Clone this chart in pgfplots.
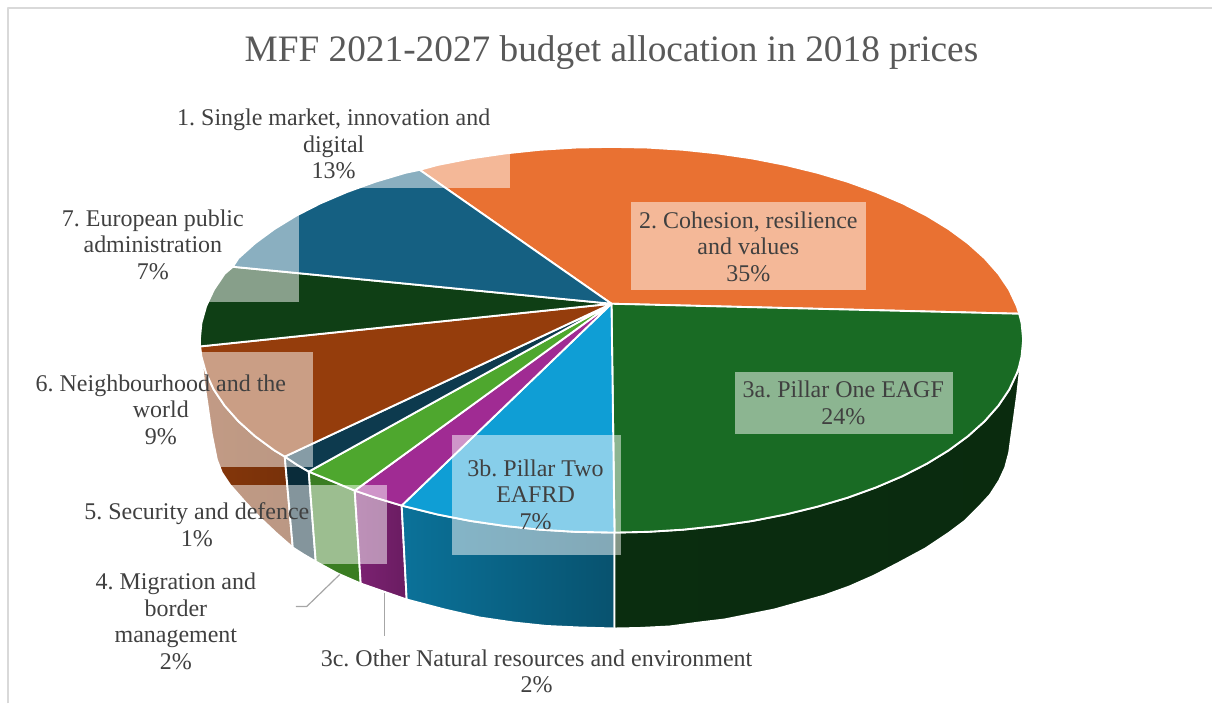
\documentclass[border=0pt]{standalone}
\usepackage{fontspec}
\setmainfont{Liberation Serif}
\usepackage{pgfplots}
\pgfplotsset{compat=1.18}
\definecolor{cBlue}{HTML}{156082}
\definecolor{cOrange}{HTML}{E97132}
\definecolor{cGreen}{HTML}{196B24}
\definecolor{cSky}{HTML}{0F9ED5}
\definecolor{cPurple}{HTML}{A02B93}
\definecolor{cLime}{HTML}{4EA72E}
\definecolor{cNavy}{HTML}{0D3A4E}
\definecolor{cRust}{HTML}{953D0C}
\definecolor{cForest}{HTML}{0F3F15}
\definecolor{txt}{HTML}{404040}
\definecolor{ttl}{HTML}{595959}
\definecolor{frame}{HTML}{D9D9D9}
\definecolor{leader}{HTML}{A6A6A6}
\tikzset{
  edge/.style={draw=white, line width=1.4pt},
  veil/.style={draw=none, fill=white, fill opacity=0.5},
  lbl/.style={text=txt, align=center, font=\fontsize{18}{20}\selectfont, inner sep=0pt},
}
\frenchspacing
\begin{document}
\begin{tikzpicture}
\begin{axis}[
  scale only axis, width=909.75pt, height=528pt,
  xmin=0, xmax=1213, ymin=0, ymax=704, y dir=reverse,
  axis lines=none, clip=false, no markers,
  every axis plot/.append style={line join=round},
]
% keeps the whole canvas inside the page
\addplot[draw=none] coordinates {(0,0) (1213,704)};
% chart frame
\addplot[frame, line width=1.5pt] coordinates {(8,704) (8,8) (1213,8)};

% outer wall of the drum, back to front
\addplot[edge, left color=cRust!90!black, right color=cRust!80!black] coordinates {
 (285,457) (274.5,450.7) (255.2,436.5) (238.6,421.6) (224.8,406) (214,390) (206.3,373.5) (201.6,356.8) (200.3,346.7)
 (204,380) (208,407) (212,435) (217,460) (222,473) (230,485) (245,502) (260,518) (277,534) (293,548)} --cycle;
\addplot[edge, fill=cNavy!75!black] coordinates {
 (309,472) (297,465) (285,457) (293,548) (304,555) (316,562)} --cycle;
\addplot[edge, fill=cLime!75!black] coordinates {
 (355,491) (331,481) (309,472) (316,562) (338,574) (361,584)} --cycle;
\addplot[edge, left color=cPurple!78!black, right color=cPurple!66!black] coordinates {
 (402,506) (375.7,498.1) (355,491) (361,584) (384,592) (407,600)} --cycle;
\addplot[edge, left color=cSky!72!black, right color=cSky!52!black] coordinates {
 (615,533) (576.1,532.3) (540.5,530.1) (505.4,526.4) (471.1,521.4) (437.9,514.9) (402,506)
 (407,600) (445,610) (480,618) (514,623) (547,626.5) (580,628) (615,629)} --cycle;
\addplot[edge, left color=cGreen!42!black, right color=cGreen!40!black] coordinates {
 (1019.5,368.5) (1017.7,373.5) (1010,390) (999.2,406) (985.4,421.6) (968.8,436.5) (949.5,450.7) (927.6,464.1)
 (903.3,476.5) (876.8,487.8) (848.3,498.1) (818,507.1) (786.1,514.9) (752.9,521.4) (718.6,526.4) (683.5,530.1)
 (647.9,532.3) (615,533) (615,629) (640,628.5) (670,627) (700,623) (725,620) (750,615) (775,610) (800,603)
 (825,596) (850,587) (875,576) (900,563) (926,549) (950,533) (966,521) (980,507) (991,495) (1000,481)
 (1006,468) (1010,453) (1012,438) (1015,417) (1018,395) (1021,368)} --cycle;

% top face slices
\addplot[edge, fill=cOrange] coordinates {
 (612,304) (420,170) (437.9,165.1) (471.1,158.6) (505.4,153.6) (540.5,149.9) (576.1,147.7) (612,147) (647.9,147.7)
 (683.5,149.9) (718.6,153.6) (752.9,158.6) (786.1,165.1) (818,172.9) (848.3,181.9) (876.8,192.2) (903.3,203.5)
 (927.6,215.9) (949.5,229.3) (968.8,243.5) (985.4,258.4) (999.2,274) (1010,290) (1017.7,306.5) (1020,314)} --cycle;
\addplot[edge, fill=cGreen] coordinates {
 (612,304) (1020,314) (1022.4,323.2) (1024,340) (1022.4,356.8) (1019.5,368.5) (1017.7,373.5) (1010,390) (999.2,406)
 (985.4,421.6) (968.8,436.5) (949.5,450.7) (927.6,464.1) (903.3,476.5) (876.8,487.8) (848.3,498.1) (818,507.1)
 (786.1,514.9) (752.9,521.4) (718.6,526.4) (683.5,530.1) (647.9,532.3) (615,533)} --cycle;
\addplot[edge, fill=cSky] coordinates {
 (612,304) (615,533) (576.1,532.3) (540.5,530.1) (505.4,526.4) (471.1,521.4) (437.9,514.9) (402,506)} --cycle;
\addplot[edge, fill=cPurple] coordinates {(612,304) (402,506) (375.7,498.1) (355,491)} --cycle;
\addplot[edge, fill=cLime] coordinates {(612,304) (355,491) (331,481) (309,472)} --cycle;
\addplot[edge, fill=cNavy] coordinates {(612,304) (309,472) (297,465) (285,457)} --cycle;
\addplot[edge, fill=cRust] coordinates {
 (612,304) (285,457) (274.5,450.7) (255.2,436.5) (238.6,421.6) (224.8,406) (214,390) (206.3,373.5) (201.6,356.8) (200.3,346.7)} --cycle;
\addplot[edge, fill=cForest] coordinates {
 (612,304) (200.3,346.7) (200,340) (201.6,323.2) (206.3,306.5) (214,290) (224.8,274) (233,267)} --cycle;
\addplot[edge, fill=cBlue] coordinates {
 (612,304) (233,267) (238.6,258.4) (255.2,243.5) (274.5,229.3) (296.4,215.9) (320.7,203.5) (347.2,192.2) (375.7,181.9) (406,172.9) (420,170)} --cycle;

% translucent plates behind the data labels
\addplot[veil] coordinates {(632,202) (867,202) (867,290) (632,290)} --cycle;
\addplot[veil] coordinates {(736,372) (954,372) (954,434) (736,434)} --cycle;
\addplot[veil] coordinates {(452,435) (622,435) (622,555) (452,555)} --cycle;
\addplot[veil] coordinates {(170,100) (510,100) (510,188) (170,188)} --cycle;
\addplot[veil] coordinates {(50,205) (299,205) (299,302) (50,302)} --cycle;
\addplot[veil] coordinates {(25,352) (313,352) (313,467) (25,467)} --cycle;
\addplot[veil] coordinates {(12,485) (387,485) (387,564) (12,564)} --cycle;

% leader lines
\addplot[leader, line width=0.9pt] coordinates {(340,575) (307,607) (296,607)};
\addplot[leader, line width=0.9pt] coordinates {(385,593) (385,637)};

% title and data labels
\node[text=ttl, font=\fontsize{28}{32}\selectfont, inner sep=0pt] at (axis cs:612,53) {MFF 2021-2027 budget allocation in 2018 prices};
\node[lbl] at (axis cs:334,144) {1. Single market, innovation and\\digital\\13\%};
\node[lbl] at (axis cs:749,247) {2. Cohesion, resilience\\and values\\35\%};
\node[lbl] at (axis cs:844,403) {3a. Pillar One EAGF\\24\%};
\node[lbl] at (axis cs:536,495) {3b. Pillar Two\\EAFRD\\7\%};
\node[lbl] at (axis cs:537,672) {3c. Other Natural resources and environment\\2\%};
\node[lbl] at (axis cs:176,622) {4. Migration and\\border\\management\\2\%};
\node[lbl] at (axis cs:197,525) {5. Security and defence\\1\%};
\node[lbl] at (axis cs:161,410) {6. Neighbourhood and the\\world\\9\%};
\node[lbl] at (axis cs:153,245) {7. European public\\administration\\7\%};
\end{axis}
\end{tikzpicture}
\end{document}
